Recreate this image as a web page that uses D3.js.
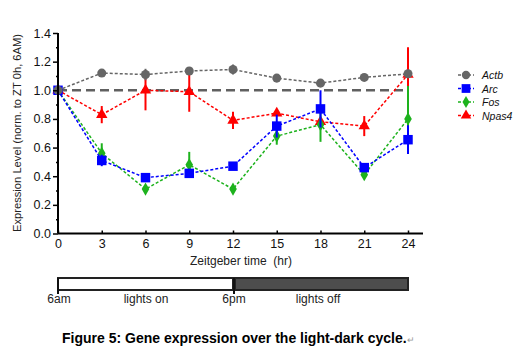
<!DOCTYPE html>
<html lang="en">
<head>
  <meta charset="UTF-8">
  <title>Gene expression over the light-dark cycle</title>
  <script src="https://d3js.org/d3.v7.min.js" charset="utf-8"></script>
  <style>
    body {
      margin: 0;
      background: #ffffff;
      font-family: Arial, 'Liberation Sans', sans-serif;
    }
    svg { display: block; }
  </style>
</head>
<body>
  <div id="wrapper"></div>
  <script>
    const hours = [0, 3, 6, 9, 12, 15, 18, 21, 24]
    const geneNames = ["Actb", "Arc", "Fos", "Npas4"]

    const actbValues = [1.00, 1.12, 1.11, 1.135, 1.145, 1.085, 1.05, 1.09, 1.115]
    const actbErrors = [0.01, 0.01, 0.04, 0.01, 0.035, 0.01, 0.01, 0.01, 0.01]
    const arcValues = [1.00, 0.51, 0.39, 0.42, 0.47, 0.75, 0.87, 0.46, 0.655]
    const arcErrors = [0.03, 0.04, 0.02, 0.03, 0.01, 0.08, 0.13, 0.02, 0.10]
    const fosValues = [1.00, 0.56, 0.31, 0.48, 0.31, 0.68, 0.76, 0.41, 0.80]
    const fosErrors = [0.08, 0.07, 0.01, 0.09, 0.01, 0.06, 0.12, 0.02, 0.23]
    const npas4Values = [1.00, 0.83, 1.00, 0.99, 0.79, 0.84, 0.78, 0.75, 1.11]
    const npas4Errors = [0.02, 0.06, 0.14, 0.14, 0.06, 0.02, 0.02, 0.07, 0.19]

    const yTicks = [0, 0.2, 0.4, 0.6, 0.8, 1.0, 1.2, 1.4]
    const xTicks = [0, 3, 6, 9, 12, 15, 18, 21, 24]
    const cycleBars = [
      { start: 0, end: 12, label: "lights on", mark: "6am", fill: "#ffffff" },
      { start: 12, end: 24, label: "lights off", mark: "6pm", fill: "#4d4d4d" }
    ]

    const series = [
      { name: "Actb", values: actbValues, errors: actbErrors, color: "#666666", symbol: d3.symbolCircle, size: 64 },
      { name: "Arc", values: arcValues, errors: arcErrors, color: "#0000ff", symbol: d3.symbolSquare, size: 90 },
      { name: "Fos", values: fosValues, errors: fosErrors, color: "#1db21d", symbol: d3.symbolDiamond, size: 50 },
      { name: "Npas4", values: npas4Values, errors: npas4Errors, color: "#ff0000", symbol: d3.symbolTriangle, size: 56 }
    ]
    // red is drawn first, grey last, like the original figure
    const drawOrder = ["Npas4", "Fos", "Arc", "Actb"]

    const dimensions = {
      width: 528,
      height: 354,
      margin: { top: 33, left: 58 }
    }
    dimensions.boundedWidth = 350
    dimensions.boundedHeight = 200.5

    const wrapper = d3.select("#wrapper")
      .append("svg")
        .attr("width", dimensions.width)
        .attr("height", dimensions.height)

    const bounds = wrapper.append("g")
      .attr("transform", `translate(${dimensions.margin.left}, ${dimensions.margin.top})`)

    const xScale = d3.scaleLinear()
      .domain([0, 24])
      .range([0, dimensions.boundedWidth])

    const yScale = d3.scaleLinear()
      .domain([0, 1.4])
      .range([dimensions.boundedHeight, 0])

    // reference line at 1.0
    bounds.append("line")
      .attr("x1", xScale(0))
      .attr("x2", xScale(24))
      .attr("y1", yScale(1))
      .attr("y2", yScale(1))
      .attr("stroke", "#606060")
      .attr("stroke-width", 2.5)
      .attr("stroke-dasharray", "9,5")

    drawOrder.forEach(name => {
      const s = series.find(d => d.name === name)
      const points = hours.map((h, i) => ({ x: h, y: s.values[i], e: s.errors[i] }))
      const g = bounds.append("g")

      g.append("path")
        .datum(points)
        .attr("fill", "none")
        .attr("stroke", s.color)
        .attr("stroke-width", 1.5)
        .attr("stroke-dasharray", "3,2")
        .attr("d", d3.line().x(d => xScale(d.x)).y(d => yScale(d.y)))

      g.selectAll(".err")
        .data(points)
        .join("line")
          .attr("class", "err")
          .attr("x1", d => xScale(d.x))
          .attr("x2", d => xScale(d.x))
          .attr("y1", d => yScale(d.y - d.e))
          .attr("y2", d => yScale(d.y + d.e))
          .attr("stroke", s.color)
          .attr("stroke-width", 2)

      g.selectAll(".pt")
        .data(points)
        .join("path")
          .attr("class", "pt")
          .attr("d", d3.symbol().type(s.symbol).size(s.size))
          .attr("transform", d => `translate(${xScale(d.x)}, ${yScale(d.y)})`)
          .attr("fill", s.color)
    })

    // axes
    const yAxis = bounds.append("g")
      .call(d3.axisLeft(yScale).tickValues(yTicks).tickFormat(d3.format(".1f")).tickSize(5).tickPadding(2))
    yAxis.append("g")
      .call(d3.axisLeft(yScale).tickValues(d3.range(0.1, 1.4, 0.2)).tickFormat("").tickSize(2))
      .select(".domain").remove()
    yAxis.selectAll(".domain").attr("stroke-width", 2).attr("d", `M0,${dimensions.boundedHeight}V0`)
    yAxis.selectAll("line").attr("stroke-width", 1.5)
    yAxis.selectAll("text")
      .style("font-size", "12.5px")
      .style("font-family", "Arial, 'Liberation Sans', sans-serif")
      .attr("fill", "#111")

    const xAxis = bounds.append("g")
      .attr("transform", `translate(0, ${dimensions.boundedHeight})`)
      .call(d3.axisBottom(xScale).tickValues(xTicks).tickSize(0).tickPadding(6))
    xAxis.select(".domain")
      .attr("stroke-width", 2)
      .attr("d", `M0,0H${dimensions.boundedWidth + 15}`)
    xAxis.selectAll(".tick line")
      .attr("y2", -3)
      .attr("stroke-width", 1.5)
    xAxis.selectAll("text")
      .style("font-size", "12.5px")
      .style("font-family", "Arial, 'Liberation Sans', sans-serif")
      .attr("fill", "#111")

    wrapper.append("text")
      .attr("x", 241)
      .attr("y", 265)
      .attr("text-anchor", "middle")
      .attr("fill", "#222")
      .attr("xml:space", "preserve")
      .style("font-size", "12px")
      .text("Zeitgeber time  (hr)")

    wrapper.append("text")
      .attr("transform", "translate(21, 133) rotate(-90)")
      .attr("text-anchor", "middle")
      .attr("fill", "#222")
      .style("font-size", "11.2px")
      .text("Expression Level (norm. to ZT 0h, 6AM)")

    // legend
    const legend = wrapper.append("g")
      .attr("transform", "translate(466, 75)")
    series.forEach((s, i) => {
      const row = legend.append("g").attr("transform", `translate(0, ${i * 13.5})`)
      row.append("line")
        .attr("x1", -8).attr("x2", 8)
        .attr("stroke", s.color)
        .attr("stroke-width", 1.5)
        .attr("stroke-dasharray", "3,2")
      row.append("path")
        .attr("d", d3.symbol().type(s.symbol).size(s.size * 0.85))
        .attr("fill", s.color)
      row.append("text")
        .attr("x", 16)
        .attr("y", 4)
        .attr("fill", "#111")
        .style("font-size", "10.5px")
        .style("font-style", "italic")
        .text(s.name)
    })

    // light-dark bar
    const cycle = wrapper.append("g")
      .attr("transform", `translate(${dimensions.margin.left}, 278)`)
    cycle.selectAll("rect")
      .data(cycleBars)
      .join("rect")
        .attr("x", d => xScale(d.start) + (d.start ? 2 : 0))
        .attr("width", d => xScale(d.end) - xScale(d.start) - (d.start ? 2 : 0))
        .attr("y", 0)
        .attr("height", 12)
        .attr("fill", d => d.fill)
        .attr("stroke", "#222")
        .attr("stroke-width", 2)
    cycle.selectAll(".mark")
      .data(cycleBars)
      .join("line")
        .attr("class", "mark")
        .attr("x1", d => xScale(d.start) + (d.start ? 1 : 0))
        .attr("x2", d => xScale(d.start) + (d.start ? 1 : 0))
        .attr("y1", 0)
        .attr("y2", 16)
        .attr("stroke", "#111")
        .attr("stroke-width", 2)
    cycle.selectAll(".marklabel")
      .data(cycleBars)
      .join("text")
        .attr("class", "marklabel")
        .attr("x", d => xScale(d.start) + 1)
        .attr("y", 25)
        .attr("text-anchor", "middle")
        .attr("fill", "#222")
        .style("font-size", "12px")
        .text(d => d.mark)
    cycle.selectAll(".barlabel")
      .data(cycleBars)
      .join("text")
        .attr("class", "barlabel")
        .attr("x", (d, i) => xScale(d.start) + (i ? 85 : 88))
        .attr("y", 25)
        .attr("text-anchor", "middle")
        .attr("fill", "#222")
        .style("font-size", "12px")
        .text(d => d.label)

    // caption
    const caption = wrapper.append("text")
      .attr("x", 62)
      .attr("y", 343)
      .attr("fill", "#000")
      .style("font-size", "14px")
      .style("font-weight", "bold")
    caption.append("tspan").text("Figure 5: Gene expression over the light-dark cycle.")
    caption.append("tspan")
      .attr("fill", "#999")
      .style("font-weight", "normal")
      .style("font-size", "9px")
      .text("\u21b5")
  </script>
</body>
</html>
